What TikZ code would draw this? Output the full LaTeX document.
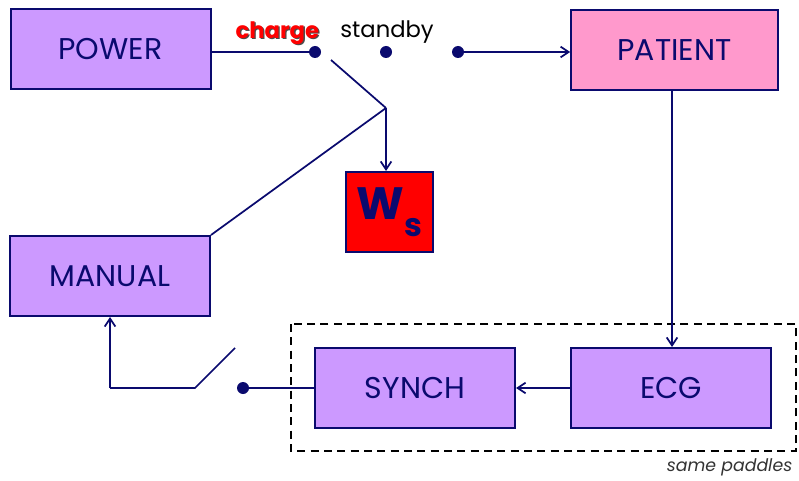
\documentclass[tikz,border=0pt]{standalone}
\usepackage{fontspec}
\setmainfont{Poppins}
\usetikzlibrary{arrows.meta}
\definecolor{navy}{HTML}{0A0A6E}
\definecolor{lav}{HTML}{CC99FF}
\definecolor{pinkbox}{HTML}{FF99CC}
\definecolor{redbox}{HTML}{FF0000}
\begin{document}
\begin{tikzpicture}[x=0.75pt,y=-0.75pt,
  box/.style={draw=navy,line width=1.5pt,minimum width=150pt,minimum height=60pt,
    inner sep=0pt,text=navy,font=\fontsize{22.5}{22.5}\selectfont},
  wire/.style={draw=navy,line width=1.3pt},
  arr/.style={wire,-{Straight Barb[length=6pt,width=8pt,line width=1.3pt]}},
  dot/.style={circle,fill=navy,inner sep=0pt,minimum size=9pt}]
\useasboundingbox (0,0) rectangle (799,481);
% blocks
\node[box,fill=lav] (power) at (110.5,49) {POWER};
\node[box,fill=pinkbox,minimum width=155pt] (patient) at (674.5,50) {PATIENT};
\node[box,fill=redbox,minimum width=65pt] (ws) at (389.5,212)
  {\fontsize{34}{34}\selectfont\bfseries W\raisebox{-13pt}{\fontsize{24}{24}\selectfont s}};
\node[box,fill=lav] (manual) at (110,276) {MANUAL};
\node[box,fill=lav] (synch) at (415,388) {SYNCH};
\node[box,fill=lav] (ecg) at (671,388) {ECG};
% dashed outline round the paddles
\draw[black,line width=1.3pt,dash pattern=on 6pt off 4pt] (291,324) rectangle (796,451);
\node[anchor=east,font=\itshape\fontsize{13}{13}\selectfont,text=black!80] (paddles) at (797,467) {same paddles};
% switch contacts
\node[dot] (c1) at (315,52) {};
\node[dot] (c2) at (386,52) {};
\node[dot] (c3) at (458,52) {};
\node[font=\bfseries\fontsize{17}{17}\selectfont,text=redbox] (charge) at (278,34)
  {\tikz[baseline]{\node[inner sep=0pt,text=black!70,anchor=base] at (1pt,-1pt) {charge};
   \node[inner sep=0pt,text=redbox,anchor=base] at (0,0) {charge};}};
\node[font=\fontsize{17}{17}\selectfont,text=black] (standby) at (387,32) {standby};
\coordinate (lever) at (331,60);
\coordinate (hinge) at (386,108);
% charging path
\draw[wire] (power.east |- c1) -- (c1);
\draw[arr] (c3) -- (patient.west |- c3);
\draw[wire] (lever) -- (hinge);
\draw[arr] (hinge) -- (ws.north -| hinge);
\draw[wire] (hinge) -- (manual.north east);
% monitoring path
\draw[arr] (patient.south -| 672,0) -- (ecg.north -| 672,0);
\draw[arr] (ecg.west) -- (synch.east);
\node[dot] (c4) at (243,388) {};
\draw[wire] (synch.west) -- (c4);
\coordinate (s1) at (195,388);
\coordinate (s2) at (235,348);
\draw[wire] (s2) -- (s1) -- (110,388);
\draw[arr] (110,388) -- (manual.south -| 110,0);
\end{tikzpicture}
\end{document}
